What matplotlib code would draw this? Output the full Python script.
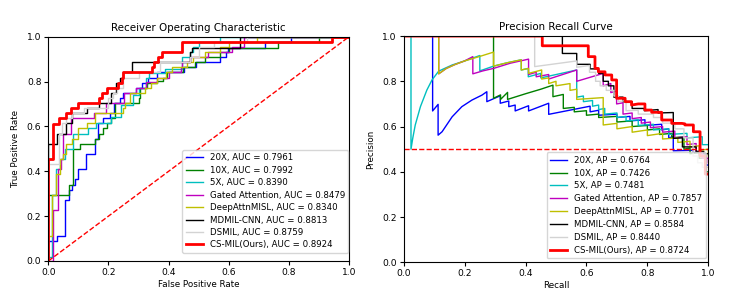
import matplotlib
matplotlib.use("Agg")
import matplotlib.pyplot as plt

# ---------------- ROC data (step points: fpr, tpr) ----------------
roc_20x_fpr = [0, 0, 0.03, 0.055, 0.07, 0.08, 0.09, 0.1, 0.125, 0.155, 0.165, 0.183, 0.205, 0.22, 0.238, 0.25, 0.29, 0.31, 0.33, 0.362, 0.45, 0.49, 0.57, 0.59, 0.598, 0.72, 0.807, 1.0]
roc_20x_tpr = [0, 0.09, 0.113, 0.272, 0.318, 0.34, 0.364, 0.41, 0.477, 0.545, 0.614, 0.636, 0.659, 0.705, 0.727, 0.75, 0.773, 0.795, 0.818, 0.841, 0.864, 0.886, 0.909, 0.932, 0.951, 0.975, 1.0, 1.0]

roc_10x_fpr = [0, 0, 0.07, 0.083, 0.105, 0.155, 0.168, 0.183, 0.194, 0.208, 0.222, 0.3, 0.305, 0.327, 0.36, 0.383, 0.394, 0.449, 0.488, 0.52, 0.57, 0.6, 0.765, 0.9, 1.0]
roc_10x_tpr = [0, 0.295, 0.34, 0.5, 0.523, 0.545, 0.568, 0.591, 0.614, 0.636, 0.705, 0.727, 0.773, 0.795, 0.803, 0.818, 0.841, 0.864, 0.886, 0.909, 0.932, 0.951, 0.975, 1.0, 1.0]

roc_5x_fpr = [0, 0, 0.012, 0.025, 0.04, 0.055, 0.081, 0.133, 0.16, 0.209, 0.242, 0.28, 0.3, 0.325, 0.336, 0.388, 0.443, 0.445, 0.47, 0.48, 0.5, 0.571, 1.0]
roc_5x_tpr = [0, 0.02, 0.295, 0.41, 0.455, 0.5, 0.568, 0.591, 0.614, 0.643, 0.695, 0.74, 0.773, 0.815, 0.838, 0.857, 0.886, 0.909, 0.932, 0.955, 0.977, 1.0, 1.0]

roc_gated_fpr = [0, 0.017, 0.031, 0.042, 0.05, 0.075, 0.153, 0.192, 0.253, 0.292, 0.325, 0.36, 0.4, 0.44, 0.445, 0.47, 0.53, 0.61, 0.65, 1.0]
roc_gated_tpr = [0, 0.227, 0.41, 0.455, 0.568, 0.636, 0.659, 0.703, 0.75, 0.77, 0.8, 0.818, 0.841, 0.864, 0.886, 0.909, 0.932, 0.955, 1.0, 1.0]

roc_deep_fpr = [0, 0, 0.012, 0.025, 0.04, 0.05, 0.06, 0.08, 0.1, 0.13, 0.155, 0.25, 0.255, 0.27, 0.32, 0.34, 0.36, 0.39, 0.41, 0.46, 0.48, 0.52, 0.57, 0.6, 0.694, 1.0]
roc_deep_tpr = [0, 0.113, 0.295, 0.386, 0.455, 0.477, 0.523, 0.545, 0.591, 0.614, 0.659, 0.682, 0.705, 0.75, 0.773, 0.795, 0.818, 0.841, 0.864, 0.886, 0.909, 0.932, 0.955, 0.977, 1.0, 1.0]

roc_mdmil_fpr = [0, 0, 0.028, 0.06, 0.08, 0.127, 0.17, 0.21, 0.225, 0.238, 0.25, 0.277, 0.472, 0.478, 0.638, 1.0]
roc_mdmil_tpr = [0, 0.523, 0.568, 0.614, 0.659, 0.682, 0.705, 0.75, 0.795, 0.818, 0.841, 0.886, 0.932, 0.951, 1.0, 1.0]

roc_dsmil_fpr = [0, 0, 0.037, 0.045, 0.06, 0.08, 0.12, 0.2, 0.215, 0.23, 0.25, 0.3, 0.37, 0.47, 0.5, 0.55, 0.66, 1.0]
roc_dsmil_tpr = [0, 0.432, 0.568, 0.614, 0.636, 0.659, 0.682, 0.727, 0.75, 0.773, 0.818, 0.841, 0.886, 0.909, 0.955, 0.977, 1.0, 1.0]

roc_csmil_fpr = [0, 0, 0.015, 0.035, 0.06, 0.075, 0.1, 0.168, 0.18, 0.195, 0.233, 0.245, 0.25, 0.344, 0.35, 0.364, 0.377, 0.443, 0.446, 0.945, 1.0]
roc_csmil_tpr = [0, 0.455, 0.612, 0.636, 0.659, 0.682, 0.705, 0.727, 0.75, 0.773, 0.795, 0.818, 0.841, 0.864, 0.886, 0.909, 0.932, 0.955, 0.977, 1.0, 1.0]

# ---------------- PR data (vertices: recall, precision) ----------------
pr_20x = [(0, 1), (0.095, 1), (0.095, 0.669), (0.113, 0.698), (0.113, 0.562), (0.126, 0.577), (0.159, 0.643),
          (0.191, 0.688), (0.224, 0.717), (0.257, 0.739), (0.273, 0.754), (0.273, 0.71), (0.317, 0.736),
          (0.317, 0.703), (0.345, 0.713), (0.345, 0.688), (0.366, 0.695), (0.366, 0.669), (0.41, 0.692),
          (0.41, 0.669), (0.476, 0.703), (0.476, 0.654), (0.612, 0.69), (0.612, 0.665), (0.64, 0.672),
          (0.64, 0.65), (0.7, 0.655), (0.7, 0.64), (0.743, 0.645), (0.743, 0.625), (0.792, 0.63),
          (0.792, 0.605), (0.847, 0.61), (0.847, 0.585), (0.87, 0.59), (0.87, 0.55), (0.885, 0.555),
          (0.885, 0.493), (0.95, 0.495), (0.95, 0.485), (0.97, 0.485), (0.97, 0.48), (0.99, 0.48),
          (0.99, 0.43), (1.0, 0.43)]
pr_10x = [(0, 1), (0.295, 1), (0.295, 0.725), (0.318, 0.74), (0.318, 0.72), (0.341, 0.751), (0.341, 0.72),
          (0.40, 0.745), (0.45, 0.765), (0.49, 0.783), (0.49, 0.732), (0.524, 0.742), (0.524, 0.68),
          (0.56, 0.685), (0.56, 0.665), (0.6, 0.67), (0.6, 0.65), (0.64, 0.655), (0.64, 0.64), (0.7, 0.645),
          (0.7, 0.62), (0.75, 0.625), (0.75, 0.6), (0.8, 0.605), (0.8, 0.585), (0.84, 0.59), (0.84, 0.565),
          (0.88, 0.57), (0.88, 0.55), (0.92, 0.555), (0.92, 0.5), (0.94, 0.505), (0.94, 0.48), (0.97, 0.485),
          (0.97, 0.46), (0.99, 0.46), (0.99, 0.40), (1.0, 0.40)]
pr_5x = [(0, 1), (0.024, 1), (0.024, 0.5), (0.03, 0.55), (0.038, 0.607), (0.055, 0.688), (0.076, 0.761),
         (0.093, 0.806), (0.115, 0.845), (0.159, 0.872), (0.2, 0.89), (0.25, 0.914), (0.25, 0.846),
         (0.295, 0.867), (0.34, 0.882), (0.386, 0.895), (0.386, 0.85), (0.409, 0.857), (0.409, 0.82),
         (0.45, 0.835), (0.45, 0.815), (0.568, 0.85), (0.568, 0.73), (0.59, 0.735), (0.59, 0.71),
         (0.62, 0.715), (0.62, 0.69), (0.64, 0.695), (0.64, 0.675), (0.66, 0.68), (0.66, 0.655), (0.7, 0.66),
         (0.7, 0.64), (0.73, 0.645), (0.73, 0.625), (0.77, 0.63), (0.77, 0.605), (0.82, 0.61), (0.82, 0.585),
         (0.87, 0.59), (0.87, 0.565), (0.93, 0.57), (0.93, 0.55), (0.98, 0.555), (0.98, 0.52), (1.0, 0.52)]
pr_gated = [(0, 1), (0.115, 1), (0.115, 0.833), (0.14, 0.857), (0.17, 0.875), (0.2, 0.89), (0.227, 0.909),
            (0.227, 0.833), (0.26, 0.846), (0.295, 0.857), (0.35, 0.88), (0.41, 0.898), (0.41, 0.83),
            (0.435, 0.84), (0.435, 0.82), (0.476, 0.83), (0.476, 0.81), (0.568, 0.85), (0.568, 0.80),
            (0.655, 0.835), (0.655, 0.78), (0.68, 0.79), (0.68, 0.75), (0.699, 0.757), (0.699, 0.70),
            (0.72, 0.705), (0.72, 0.655), (0.75, 0.66), (0.75, 0.635), (0.78, 0.64), (0.78, 0.615),
            (0.81, 0.62), (0.81, 0.595), (0.85, 0.6), (0.85, 0.575), (0.89, 0.58), (0.89, 0.55), (0.93, 0.555),
            (0.93, 0.52), (0.96, 0.525), (0.96, 0.49), (0.98, 0.49), (0.98, 0.46), (1.0, 0.46), (1.0, 0.44)]
pr_deep = [(0, 1), (0.115, 1), (0.115, 0.833), (0.14, 0.857), (0.17, 0.875), (0.2, 0.89), (0.25, 0.91),
           (0.295, 0.929), (0.295, 0.867), (0.34, 0.882), (0.386, 0.895), (0.386, 0.85), (0.41, 0.857),
           (0.41, 0.835), (0.453, 0.85), (0.453, 0.81), (0.476, 0.815), (0.476, 0.79), (0.5, 0.8), (0.5, 0.78),
           (0.546, 0.79), (0.546, 0.76), (0.568, 0.765), (0.568, 0.72), (0.655, 0.728), (0.655, 0.607),
           (0.7, 0.614), (0.7, 0.59), (0.75, 0.6), (0.75, 0.575), (0.8, 0.585), (0.8, 0.56), (0.85, 0.57),
           (0.85, 0.545), (0.9, 0.55), (0.9, 0.53), (0.94, 0.535), (0.94, 0.51), (0.97, 0.515), (0.97, 0.495),
           (1.0, 0.5), (1.0, 0.47)]
pr_mdmil = [(0, 1), (0.521, 1), (0.521, 0.923), (0.568, 0.923), (0.568, 0.875), (0.612, 0.875),
            (0.612, 0.855), (0.64, 0.855), (0.64, 0.835), (0.655, 0.835), (0.655, 0.80), (0.672, 0.80),
            (0.672, 0.78), (0.69, 0.78), (0.69, 0.73), (0.72, 0.73), (0.72, 0.71), (0.75, 0.71), (0.75, 0.68),
            (0.79, 0.68), (0.79, 0.67), (0.835, 0.675), (0.835, 0.66), (0.885, 0.662), (0.885, 0.548),
            (0.915, 0.55), (0.915, 0.51), (0.96, 0.51), (0.96, 0.49), (0.985, 0.49), (0.985, 0.48), (1.0, 0.48)]
pr_dsmil = [(0, 1), (0.43, 1), (0.43, 0.865), (0.568, 0.89), (0.568, 0.862), (0.61, 0.87), (0.61, 0.84),
            (0.63, 0.84), (0.63, 0.80), (0.645, 0.80), (0.645, 0.78), (0.665, 0.78), (0.665, 0.76), (0.69, 0.76),
            (0.69, 0.735), (0.705, 0.735), (0.705, 0.71), (0.73, 0.715), (0.73, 0.67), (0.77, 0.672),
            (0.77, 0.655), (0.82, 0.655), (0.82, 0.64), (0.85, 0.64), (0.85, 0.615), (0.89, 0.615),
            (0.89, 0.59), (0.92, 0.59), (0.92, 0.55), (0.95, 0.55), (0.95, 0.47), (0.965, 0.47), (0.965, 0.44),
            (0.98, 0.44), (0.98, 0.42), (1.0, 0.42)]
pr_csmil = [(0, 1), (0.455, 1), (0.455, 0.957), (0.606, 0.957), (0.606, 0.909), (0.628, 0.909), (0.628, 0.857),
            (0.639, 0.857), (0.639, 0.842), (0.661, 0.842), (0.661, 0.828), (0.683, 0.828), (0.683, 0.806),
            (0.699, 0.806), (0.699, 0.725), (0.727, 0.725), (0.727, 0.71), (0.748, 0.71), (0.748, 0.695),
            (0.77, 0.70), (0.792, 0.70), (0.792, 0.673), (0.814, 0.673), (0.814, 0.663), (0.847, 0.663),
            (0.847, 0.629), (0.88, 0.629), (0.88, 0.614), (0.913, 0.614), (0.923, 0.612), (0.923, 0.607),
            (0.951, 0.607), (0.951, 0.577), (0.973, 0.577), (0.973, 0.47), (0.99, 0.47), (0.99, 0.39), (1.0, 0.39)]

names = ["20X", "10X", "5X", "Gated Attention", "DeepAttnMISL", "MDMIL-CNN", "DSMIL", "CS-MIL(Ours)"]
auc_values = [0.7961, 0.7992, 0.8390, 0.8479, 0.8340, 0.8813, 0.8759, 0.8924]
ap_values = [0.6764, 0.7426, 0.7481, 0.7857, 0.7701, 0.8584, 0.8440, 0.8724]
colors = ["b", "g", "c", "m", "y", "k", "lightgray", "r"]
widths = [1.0, 1.0, 1.0, 1.0, 1.0, 1.0, 1.0, 2.0]

roc_fprs = [roc_20x_fpr, roc_10x_fpr, roc_5x_fpr, roc_gated_fpr, roc_deep_fpr, roc_mdmil_fpr, roc_dsmil_fpr, roc_csmil_fpr]
roc_tprs = [roc_20x_tpr, roc_10x_tpr, roc_5x_tpr, roc_gated_tpr, roc_deep_tpr, roc_mdmil_tpr, roc_dsmil_tpr, roc_csmil_tpr]
prs = [pr_20x, pr_10x, pr_5x, pr_gated, pr_deep, pr_mdmil, pr_dsmil, pr_csmil]

fig = plt.figure(figsize=(7.47, 2.95), dpi=100)
ax1 = fig.add_axes([0.0647, 0.1153, 0.4025, 0.760])
ax2 = fig.add_axes([0.5404, 0.1108, 0.4078, 0.767])

tfs = 6.6
lbfs = 6.3
lfs = 6.2
for i in range(8):
    ax1.plot(roc_fprs[i], roc_tprs[i], drawstyle="steps-post", color=colors[i], lw=widths[i],
             label=f"{names[i]}, AUC = {auc_values[i]:.4f}")
ax1.plot([0, 1], [0, 1], "r--", lw=1)
ax1.set_xlim(0, 1)
ax1.set_ylim(0, 1)
ax1.set_title("Receiver Operating Characteristic", fontsize=7.4, pad=4)
ax1.set_xlabel("False Positive Rate", fontsize=lbfs, labelpad=2)
ax1.set_ylabel("True Positive Rate", fontsize=lbfs, labelpad=5)
ax1.legend(loc="lower right", fontsize=lfs, borderaxespad=0.0, handlelength=2.0,
           labelspacing=0.4, bbox_to_anchor=(0.998, 0.036))

for i in range(8):
    r = [p[0] for p in prs[i]]
    pvals = [p[1] for p in prs[i]]
    ax2.plot(r, pvals, color=colors[i], lw=widths[i],
             label=f"{names[i]}, AP = {ap_values[i]:.4f}")
ax2.axhline(0.5, color="r", ls="--", lw=1)
ax2.set_xlim(0, 1)
ax2.set_ylim(0, 1)
ax2.set_title("Precision Recall Curve", fontsize=7.4, pad=4)
ax2.set_xlabel("Recall", fontsize=lbfs, labelpad=2)
ax2.set_ylabel("Precision", fontsize=lbfs, labelpad=5)
ax2.legend(loc="lower right", fontsize=lfs, borderaxespad=0.0, handlelength=2.0,
           labelspacing=0.45, bbox_to_anchor=(0.992, 0.018))

for ax in (ax1, ax2):
    ax.tick_params(labelsize=tfs, length=3, pad=2)
    ax.set_xticks([0, 0.2, 0.4, 0.6, 0.8, 1.0])
    ax.set_yticks([0, 0.2, 0.4, 0.6, 0.8, 1.0])

fig.savefig("out.png", dpi=100)
